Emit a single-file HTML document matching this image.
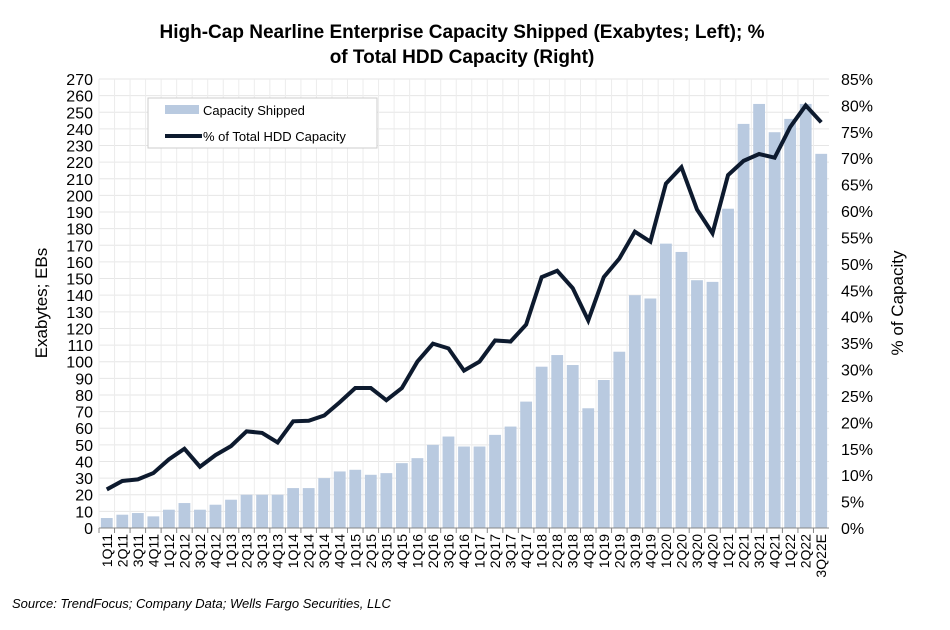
<!DOCTYPE html>
<html><head><meta charset="utf-8"><style>
body{margin:0;background:#fff;font-family:"Liberation Sans",Arial,sans-serif}
svg text{font-family:"Liberation Sans",Arial,sans-serif}
</style></head><body>
<svg id="c" width="950" height="625" viewBox="0 0 950 625">
<text x="462" y="38" text-anchor="middle" font-size="19" font-weight="bold">High-Cap Nearline Enterprise Capacity Shipped (Exabytes; Left); %</text>
<text x="462" y="63" text-anchor="middle" font-size="19" font-weight="bold">of Total HDD Capacity (Right)</text>
<g id="grid"></g>
<g id="bars"></g>
<g id="line"></g>
<g id="axes"></g>
<text transform="translate(47,303) rotate(-90)" text-anchor="middle" font-size="17">Exabytes; EBs</text>
<text transform="translate(903,303) rotate(-90)" text-anchor="middle" font-size="17">% of Capacity</text>
<g>
<rect x="148" y="98" width="229" height="50" fill="#fff" stroke="#ccc"/>
<rect x="165" y="105" width="34" height="9" fill="#b9cae0"/>
<text x="203" y="115" font-size="13">Capacity Shipped</text>
<line x1="165" y1="136" x2="202" y2="136" stroke="#0d1a2e" stroke-width="4"/>
<text x="203" y="141" font-size="13">% of Total HDD Capacity</text>
</g>
<text x="12" y="608" font-size="13" font-style="italic">Source:  TrendFocus; Company Data; Wells Fargo Securities, LLC</text>
</svg>
<script>
const categories=["1Q11","2Q11","3Q11","4Q11","1Q12","2Q12","3Q12","4Q12","1Q13","2Q13","3Q13","4Q13","1Q14","2Q14","3Q14","4Q14","1Q15","2Q15","3Q15","4Q15","1Q16","2Q16","3Q16","4Q16","1Q17","2Q17","3Q17","4Q17","1Q18","2Q18","3Q18","4Q18","1Q19","2Q19","3Q19","4Q19","1Q20","2Q20","3Q20","4Q20","1Q21","2Q21","3Q21","4Q21","1Q22","2Q22","3Q22E"];
const capacity=[6,8,9,7,11,15,11,14,17,20,20,20,24,24,30,34,35,32,33,39,42,50,55,49,49,56,61,76,97,104,98,72,89,106,140,138,171,166,149,148,192,243,255,238,246,255,225];
const percent=[7.3,8.9,9.2,10.4,13,15,11.6,13.8,15.5,18.3,18,16.2,20.2,20.3,21.3,23.8,26.5,26.5,24.2,26.5,31.5,34.9,34,29.8,31.5,35.5,35.3,38.5,47.5,48.7,45.4,39.3,47.5,51,56.1,54.2,65.2,68.3,60.3,55.8,66.8,69.5,70.8,70.1,75.9,80,76.8];
const leftTicks=[0,10,20,30,40,50,60,70,80,90,100,110,120,130,140,150,160,170,180,190,200,210,220,230,240,250,260,270];
const rightTicks=[0,5,10,15,20,25,30,35,40,45,50,55,60,65,70,75,80,85];
const NS="http://www.w3.org/2000/svg";
const X0=99,X1=829,Y0=528,Y1=79;
const bw=(X1-X0)/categories.length;
const yL=v=>Y0-(v/270)*(Y0-Y1);
const yR=v=>Y0-(v/85)*(Y0-Y1);
const xC=i=>X0+bw*(i+0.5);
function mk(t,a,p){const e=document.createElementNS(NS,t);for(const k in a)e.setAttribute(k,a[k]);p.appendChild(e);return e;}
const grid=document.getElementById('grid'),bars=document.getElementById('bars'),line=document.getElementById('line'),axes=document.getElementById('axes');
leftTicks.forEach(v=>{
 const g=mk('line',{x1:X0,x2:X1,y1:yL(v),y2:yL(v),stroke:'#e6e6e6','stroke-width':1},grid);
 
 
 const t=mk('text',{x:X0-6,y:yL(v)+6,'text-anchor':'end','font-size':16},axes);t.textContent=v;
 
 
});
categories.forEach((c,i)=>{
 const g=mk('line',{x1:X0+bw*i,x2:X0+bw*i,y1:Y1,y2:Y0,stroke:'#ececec','stroke-width':1},grid);
 
 
 const r=mk('rect',{x:xC(i)-bw*0.38,width:bw*0.76,y:yL(capacity[i]),height:Y0-yL(capacity[i]),fill:'#b9cae0'},bars);
 
 
 const tk=mk('line',{x1:X0+bw*i,x2:X0+bw*i,y1:Y0,y2:Y0+5,stroke:'#888'},axes);
 
 
 const t=mk('text',{transform:`translate(${xC(i)+5},${Y0+6}) rotate(-90)`,'text-anchor':'end','font-size':14},axes);t.textContent=c;
 
 
});
rightTicks.forEach(v=>{
 const t=mk('text',{x:X1+12,y:yR(v)+6,'font-size':16},axes);t.textContent=v+'%';
 
 
});
const base=mk('line',{x1:X0,x2:X1,y1:Y0,y2:Y0,stroke:'#888'},axes);


const p=mk('polyline',{points:percent.map((v,i)=>xC(i)+','+yR(v)).join(' '),fill:'none',stroke:'#0d1a2e','stroke-width':4,'stroke-linejoin':'miter'},line);


</script>
</body></html>
